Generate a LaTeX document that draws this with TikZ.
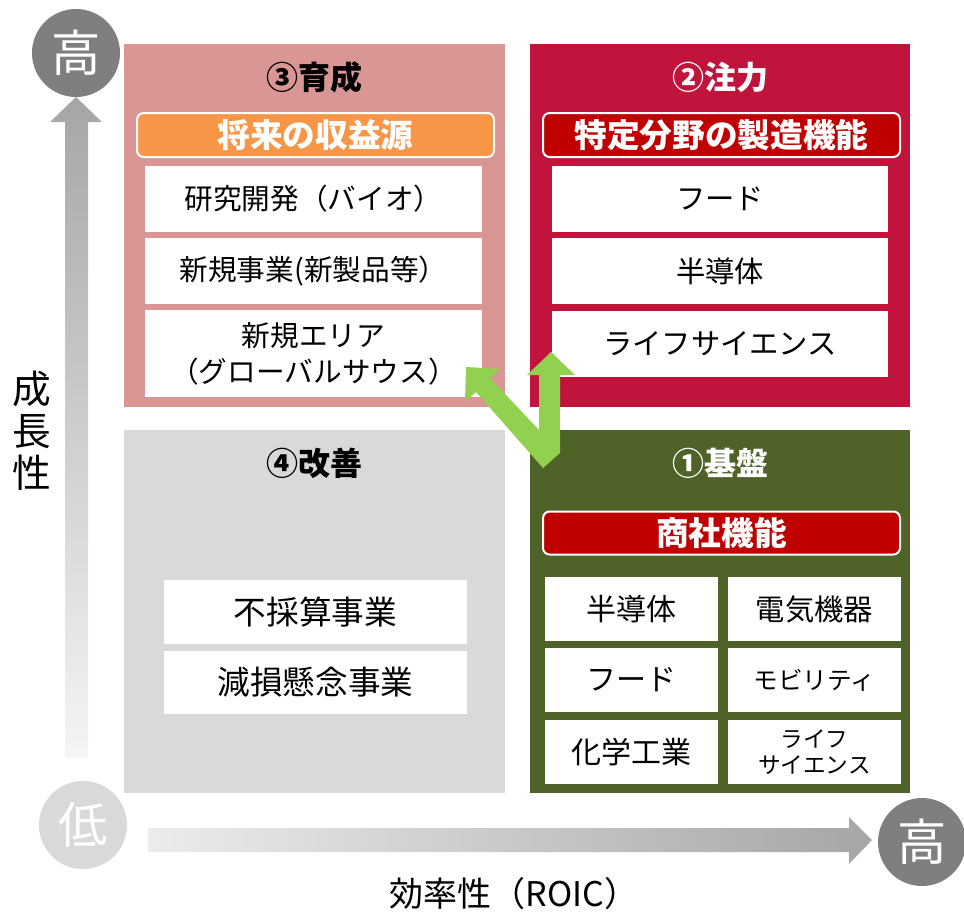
\documentclass[tikz,border=0pt]{standalone}
\usepackage{fontspec}
\setmainfont{Noto Sans CJK JP}
\usetikzlibrary{arrows.meta, positioning}

\definecolor{nurture}{HTML}{DA9694}
\definecolor{focus}{HTML}{C0143C}
\definecolor{improve}{HTML}{D9D9D9}
\definecolor{base}{HTML}{4F6228}
\definecolor{pillorange}{HTML}{F79646}
\definecolor{pillred}{HTML}{C00000}
\definecolor{moveg}{HTML}{92D050}
\definecolor{axisdark}{HTML}{7F7F7F}

\newcommand{\fsz}[1]{\fontsize{#1}{1.15\dimexpr#1\relax}\selectfont}

\begin{document}
\begin{tikzpicture}[
    % one unit = one pixel of the reference, y runs downward
    x=0.75pt,
    y=-0.75pt,
    sz/.style 2 args={minimum width=#1*0.75pt, minimum height=#2*0.75pt},
    quad/.style={rectangle, inner sep=0pt},
    item/.style={rectangle, fill=white, inner sep=0pt, align=center, text=black},
    pill/.style={rectangle, rounded corners=5pt, draw=white, line width=1.5pt,
        inner sep=0pt, text=white, font=\fsz{24.5pt}\bfseries},
    head/.style={font=\fsz{24pt}\bfseries},
    axisball/.style={circle, inner sep=0pt, minimum size=88*0.75pt, text=white, font=\fsz{37pt}}
]
    \useasboundingbox (0,0) rectangle (964,914);

    % --- Axes ---
    \shade[top color=gray!70, bottom color=gray!8]
        (65,758) -- (65,122) -- (50,122) -- (76,97) -- (102,122) -- (88,122) -- (88,758) -- cycle;
    \shade[left color=gray!15, right color=gray!70]
        (148,828) -- (849,828) -- (849,817) -- (872,840) -- (849,864) -- (849,852) -- (148,852) -- cycle;

    \node[axisball, fill=axisdark] (hiy) at (76,53) {高};
    \node[axisball, fill=improve] (lo) at (83,825) {低};
    \node[axisball, fill=axisdark] (hix) at (922,842) {高};

    \node[align=center, font=\fontsize{29pt}{31.5pt}\selectfont] (ylab) at (32,431) {成\\長\\性};
    \node[font=\fsz{25.5pt}] (xlab) at (514,894) {効率性（ROIC）};

    % --- Quadrants ---
    \node[quad, fill=nurture, sz={381}{363}] (q3) at (314.5,225.5) {};
    \node[quad, fill=focus,   sz={380}{363}] (q2) at (720,225.5) {};
    \node[quad, fill=improve, sz={381}{363}] (q4) at (314.5,611.5) {};
    \node[quad, fill=base,    sz={380}{363}] (q1) at (720,611.5) {};

    \node[head] (t3) at (314,77) {③育成};
    \node[head, text=white] (t2) at (720,77) {②注力};
    \node[head] (t4) at (314,463) {④改善};
    \node[head, text=white] (t1) at (720,463) {①基盤};

    % --- Headings inside the quadrants ---
    \node[pill, fill=pillorange, sz={357}{44}] (p3) at (315.5,135) {将来の収益源};
    \node[pill, fill=pillred, sz={357}{44}] (p2) at (721.5,135) {特定分野の製造機能};
    \node[pill, fill=pillred, sz={357}{43}] (p1) at (721.5,533) {商社機能};

    % --- ③ items ---
    \node[item, sz={337}{66}, font=\fsz{21.5pt}] (a1) at (313.5,199) {研究開発（バイオ）};
    \node[item, sz={337}{66}, font=\fsz{21.5pt}] (a2) at (313.5,271) {新規事業(新製品等）};
    \node[item, sz={337}{87}, font=\fontsize{21.5pt}{27pt}\selectfont] (a3) at (313.5,353.5)
        {新規エリア\\（グローバルサウス）};

    % --- ② items ---
    \foreach \txt/\yc [count=\i] in {フード/199, 半導体/271, ライフサイエンス/343.5}
        \node[item, sz={336}{66}, font=\fsz{22pt}] (b\i) at (720,\yc) {\txt};

    % --- ④ items ---
    \node[item, sz={303}{64}, font=\fsz{24.5pt}] (c1) at (315.5,612) {不採算事業};
    \node[item, sz={303}{63}, font=\fsz{24.5pt}] (c2) at (315.5,682.5) {減損懸念事業};

    % --- ① items ---
    \foreach \txt/\yc [count=\i] in {半導体/609, フード/680, 化学工業/752}
        \node[item, sz={173}{64}, font=\fsz{22.5pt}] (dl\i) at (631.5,\yc) {\txt};
    \node[item, sz={173}{64}, font=\fsz{22pt}] (dr1) at (814.5,609) {電気機器};
    \node[item, sz={173}{64}, font=\fsz{18.5pt}] (dr2) at (814.5,680) {モビリティ};
    \node[item, sz={173}{64}, font=\fontsize{17pt}{19pt}\selectfont] (dr3) at (814.5,752)
        {ライフ\\サイエンス};

    % --- Moves from ① to ② and ③ ---
    \fill[moveg] (466,367) -- (501,369) -- (490,378) -- (539,430) -- (539,375) -- (527,375)
        -- (551,352) -- (575,375) -- (560,375) -- (560,453) -- (543,468) -- (476,392)
        -- (465,402) -- cycle;

\end{tikzpicture}
\end{document}
